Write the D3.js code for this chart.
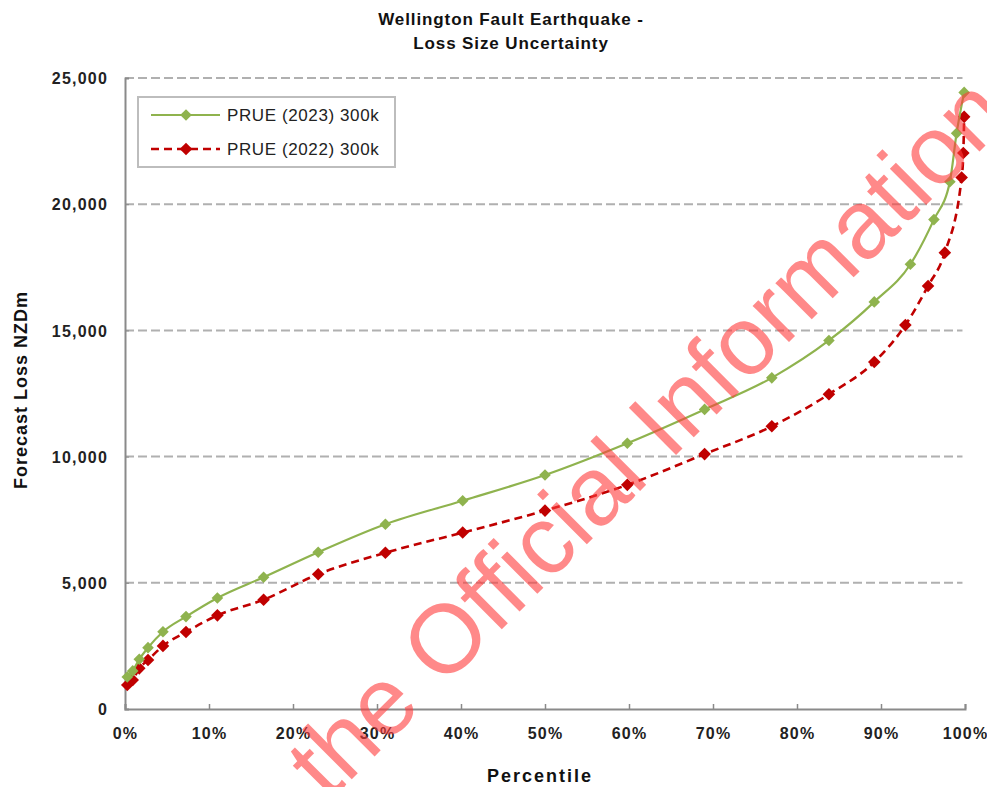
<!DOCTYPE html>
<html>
<head>
<meta charset="utf-8">
<script src="https://cdn.jsdelivr.net/npm/d3@7"></script>
<style>
  html, body { margin: 0; padding: 0; background: #fff; }
  svg { display: block; font-family: "Liberation Sans", Arial, sans-serif; }
</style>
</head>
<body>
<svg id="chart" width="987" height="787"></svg>
<script>
// Percentile points (%) and forecast loss (NZD m) for each model run
const pct2023 = [0.27, 0.92, 1.7, 2.74, 4.52, 7.26, 11.0, 16.5, 23.0, 31.0, 40.2, 50.0, 59.8, 69.0, 77.0, 83.8, 89.2, 93.5, 96.3, 98.2, 99.0, 99.9];
const loss2023 = [1270, 1510, 1970, 2430, 3060, 3660, 4400, 5220, 6210, 7320, 8250, 9270, 10530, 11870, 13120, 14600, 16130, 17620, 19390, 20890, 22810, 24430];

const pct2022 = [0.27, 0.92, 1.7, 2.74, 4.52, 7.26, 11.0, 16.5, 23.0, 31.0, 40.2, 50.0, 59.8, 69.0, 77.0, 83.8, 89.2, 92.9, 95.6, 97.6, 99.6, 99.8, 99.9];
const loss2022 = [950, 1150, 1610, 1940, 2500, 3050, 3710, 4330, 5340, 6190, 6990, 7860, 8880, 10100, 11200, 12470, 13750, 15210, 16760, 18080, 21060, 22030, 23460];

const seriesNames = ["PRUE (2023) 300k", "PRUE (2022) 300k"];
const yTicks = [0, 5000, 10000, 15000, 20000, 25000];
const xTicks = [0, 10, 20, 30, 40, 50, 60, 70, 80, 90, 100];

const svg = d3.select("#chart");
const margin = { left: 125, right: 22, top: 78, bottom: 78 };
const W = 987, H = 787;

const x = d3.scaleLinear().domain([0, 100]).range([margin.left, W - margin.right]);
const y = d3.scaleLinear().domain([0, 25000]).range([H - margin.bottom, margin.top]);

// Title
const title = svg.append("text")
  .attr("x", 511).attr("text-anchor", "middle")
  .style("font-weight", "bold").style("font-size", "17px").style("letter-spacing", "0.9px")
  .attr("fill", "#111");
title.append("tspan").attr("x", 511).attr("y", 25).text("Wellington Fault Earthquake -");
title.append("tspan").attr("x", 511).attr("y", 49).text("Loss Size Uncertainty");

// Horizontal gridlines
svg.append("g").selectAll("line").data(yTicks.filter(d => d > 0)).join("line")
  .attr("x1", x(0)).attr("x2", x(99.7))
  .attr("y1", d => y(d)).attr("y2", d => y(d))
  .attr("stroke", "#b0b0b0").attr("stroke-width", 2)
  .attr("stroke-dasharray", "9,4");

// Y axis
const yAxis = svg.append("g").attr("transform", `translate(${x(0)},0)`)
  .call(d3.axisRight(y).tickValues(yTicks).tickSize(4).tickFormat(d3.format(",")));
yAxis.select(".domain").attr("stroke", "#8a8a8a").attr("stroke-width", 2);
yAxis.selectAll(".tick line").attr("stroke", "#8a8a8a");
yAxis.selectAll(".tick text")
  .attr("x", -17).attr("text-anchor", "end").attr("dy", "0.35em")
  .style("font-size", "16px").style("font-weight", "bold").style("letter-spacing", "1.2px")
  .attr("fill", "#222");

// X axis
const xAxis = svg.append("g").attr("transform", `translate(0,${y(0)})`)
  .call(d3.axisTop(x).tickValues(xTicks).tickSize(5).tickFormat(d => d + "%"));
xAxis.select(".domain").attr("stroke", "#8a8a8a").attr("stroke-width", 2);
xAxis.selectAll(".tick line").attr("stroke", "#8a8a8a").attr("stroke-width", 1.5);
xAxis.selectAll(".tick text")
  .attr("y", 30).attr("dy", 0)
  .style("font-size", "16px").style("font-weight", "bold").style("letter-spacing", "1.2px")
  .attr("fill", "#222");

// Axis titles
svg.append("text")
  .attr("x", 540).attr("y", 782).attr("text-anchor", "middle")
  .style("font-weight", "bold").style("font-size", "18px").style("letter-spacing", "2px")
  .attr("fill", "#111").text("Percentile");
svg.append("text")
  .attr("transform", "translate(27,390) rotate(-90)").attr("text-anchor", "middle")
  .style("font-weight", "bold").style("font-size", "18px").style("letter-spacing", "1px")
  .attr("fill", "#111").text("Forecast Loss NZDm");

// Series
const series = [
  { name: seriesNames[0], pct: pct2023, loss: loss2023, color: "#8fb34e", dash: null, width: 2.2, msize: 5.8 },
  { name: seriesNames[1], pct: pct2022, loss: loss2022, color: "#c00000", dash: "8,5", width: 2.6, msize: 6.3 }
];

const line = d3.line().x(d => x(d[0])).y(d => y(d[1])).curve(d3.curveMonotoneX);
const diamond = s => `M0,${-s}L${s},0L0,${s}L${-s},0Z`;

series.slice().reverse().forEach(s => {
  const pts = s.pct.map((p, i) => [p, s.loss[i]]);
  const g = svg.append("g");
  g.append("path").datum(pts).attr("d", line)
    .attr("fill", "none").attr("stroke", s.color).attr("stroke-width", s.width)
    .attr("stroke-dasharray", s.dash);
  g.selectAll("path.m").data(pts).join("path").attr("class", "m")
    .attr("transform", d => `translate(${x(d[0])},${y(d[1])})`)
    .attr("d", diamond(s.msize)).attr("fill", s.color);
});

// Legend
const lg = svg.append("g");
lg.append("rect").attr("x", 138).attr("y", 97).attr("width", 257).attr("height", 70)
  .attr("fill", "#fff").attr("stroke", "#bdbdbd").attr("stroke-width", 2);
series.forEach((s, i) => {
  const ly = 115 + i * 34;
  lg.append("line").attr("x1", 151).attr("x2", 220).attr("y1", ly).attr("y2", ly)
    .attr("stroke", s.color).attr("stroke-width", s.width).attr("stroke-dasharray", s.dash);
  lg.append("path").attr("transform", `translate(186,${ly})`).attr("d", diamond(s.msize)).attr("fill", s.color);
  lg.append("text").attr("x", 227).attr("y", ly).attr("dy", "0.36em")
    .style("font-size", "17px").style("letter-spacing", "0.6px").attr("fill", "#222").text(s.name);
});

// Release stamp across the page
svg.append("text")
  .attr("transform", "translate(328,803) rotate(-45)")
  .style("font-size", "97px").attr("fill", "#ff3b3b").attr("fill-opacity", 0.6)
  .text("the Official Information");
</script>
</body>
</html>
